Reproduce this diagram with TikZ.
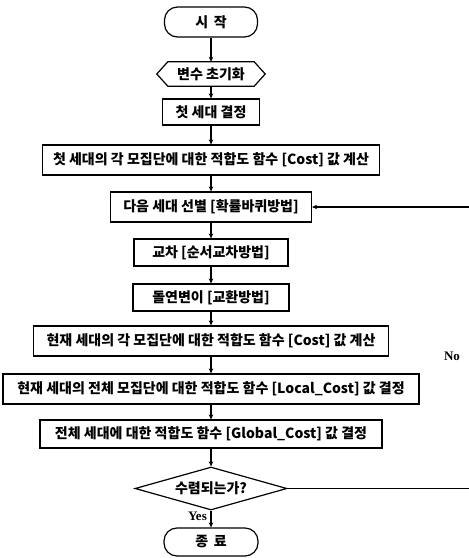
\documentclass[tikz,border=0pt]{standalone}
\usepackage{fontspec}
\setmainfont{Liberation Serif}
\newfontfamily\kr{Noto Sans CJK KR}
\usetikzlibrary{arrows.meta,shapes.geometric}
\begin{document}
\begin{tikzpicture}[x=1pt,y=-1pt,
  every node/.style={inner sep=0pt, font=\kr\bfseries\fontsize{14}{16}\selectfont},
  stepbox/.style={draw, line width=1.2pt},
  term/.style={draw, line width=1.2pt, rounded corners=13pt},
  decision/.style={draw, line width=1.2pt, diamond, aspect=3.5},
  lbl/.style={font=\bfseries\fontsize{13}{15}\selectfont},
  flow/.style={line width=1.2pt, -{Stealth[length=5pt,width=4.5pt]}}]
\useasboundingbox (0,0) rectangle (469,558);
\node[term, minimum width=93pt, minimum height=30pt] (start) at (211,22) {시 \,작};
\node[minimum width=108pt, minimum height=24pt] (init) at (211,74) {변수 초기화};
\draw[line width=1.2pt] (init.west) -- ([xshift=11pt]init.north west) -- ([xshift=-11pt]init.north east) -- (init.east) -- ([xshift=-11pt]init.south east) -- ([xshift=11pt]init.south west) -- cycle;
\node[stepbox, minimum width=97pt, minimum height=26pt] (b0) at (211,112) {첫 세대 결정};
\node[stepbox, minimum width=337pt, minimum height=30pt] (b1) at (211,160) {첫 세대의 각 모집단에 대한 적합도 함수 [Cost] 값 계산};
\node[stepbox, minimum width=201pt, minimum height=30pt] (b2) at (211,207) {다음 세대 선별 [확률바퀴방법]};
\node[stepbox, minimum width=154pt, minimum height=27pt] (b3) at (211,252.5) {교차 [순서교차방법]};
\node[stepbox, minimum width=156pt, minimum height=27pt] (b4) at (211,297.5) {돌연변이 [교환방법]};
\node[stepbox, minimum width=355pt, minimum height=30pt] (b5) at (211,341) {현재 세대의 각 모집단에 대한 적합도 함수 [Cost] 값 계산};
\node[stepbox, minimum width=416pt, minimum height=30pt] (b6) at (211,389) {현재 세대의 전체 모집단에 대한 적합도 함수 [Local\_Cost] 값 결정};
\node[stepbox, minimum width=342pt, minimum height=28pt] (b7) at (211,434) {전체 세대에 대한 적합도 함수 [Global\_Cost] 값 결정};
\node[decision, minimum width=152pt, minimum height=43pt] (dia) at (211,488.5) {수렴되는가?};
\node[term, minimum width=94pt, minimum height=28pt] (stop) at (211,542) {종 \,료};
\coordinate (rt) at (472,488.5);
\draw[flow] (start) -- (init);
\draw[flow] (init) -- (b0);
\draw[flow] (b0) -- (b1);
\draw[flow] (b1) -- (b2);
\draw[flow] (b2) -- (b3);
\draw[flow] (b3) -- (b4);
\draw[flow] (b4) -- (b5);
\draw[flow] (b5) -- (b6);
\draw[flow] (b6) -- (b7);
\draw[flow] (b7) -- (dia);
\draw[flow] (dia) -- (stop);
\draw[flow] (dia.east) -- (rt) |- (b2.east);
\node[lbl, anchor=east] (yes) at (207,516) {Yes};
\node[lbl] (no) at (452,356) {No};
\end{tikzpicture}
\end{document}
